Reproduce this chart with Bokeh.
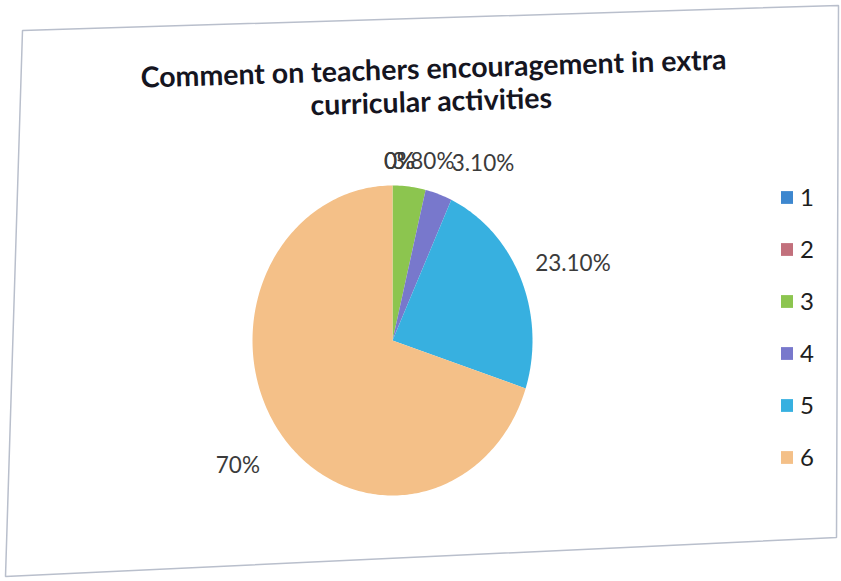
import numpy as np
from bokeh.plotting import figure
from bokeh.models import ColumnDataSource, Range1d, Legend, LegendItem
from bokeh.core.properties import value
from bokeh.embed import file_html
from bokeh.resources import INLINE

# ---- data ----
categories = ["1", "2", "3", "4", "5", "6"]
shares = [0.0, 0.0, 3.8, 3.1, 23.1, 70.0]          # percent
share_labels = ["0%", "0%", "3.80%", "3.10%", "23.10%", "70%"]
title_lines = ["Comment on teachers encouragement in extra",
               "curricular activities"]
colors = ["#3d87cf", "#c2707c", "#8cc54f", "#7878cc", "#37b0e0", "#f4c088"]

# ---- layout / style ----
W, H = 841, 581
CX, CY, RX, RY = 392, 340, 140, 155
FONT = "Lato"

p = figure(width=W, height=H, output_backend="svg", toolbar_location=None,
           x_range=Range1d(0, W), y_range=Range1d(H, 0),
           x_axis_location=None, y_axis_location=None, min_border=0)
p.grid.visible = False
p.outline_line_color = None
p.background_fill_color = "white"
p.border_fill_color = "white"

# card border (decoration, slightly skewed like the photographed sheet)
p.patch(x=[22, 838, 836, 5], y=[30, 5, 537, 576], fill_color=None,
        line_color="#b9bfcc", line_width=1.5)

# ---- pie slices (clockwise from 12 o'clock) ----
frac = np.array(shares) / 100.0
ends = np.cumsum(frac) * 2 * np.pi
starts = ends - frac * 2 * np.pi
xs, ys = [], []
for a0, a1 in zip(starts, ends):
    n = max(2, int(np.ceil((a1 - a0) / (np.pi / 180))) + 1)
    t = np.linspace(a0, a1, n)
    xs.append([CX] + list(CX + RX * np.sin(t)))
    ys.append([CY] + list(CY - RY * np.cos(t)))

src = ColumnDataSource(dict(xs=xs, ys=ys, cat=categories, color=colors))
r = p.patches("xs", "ys", source=src, fill_color="color", line_color=None)

# ---- data labels: placed outward along each slice's mid-angle ----
mid = (starts + ends) / 2
lx = CX + 1.18 * RX * np.sin(mid)
ly = CY - 1.18 * RY * np.cos(mid)
# label nudges (styling, in screen px; +y is down)
nudge_x = [7, 7, 11, 36, 29, -21]
nudge_y = [3, 3, 2, -5, -5, 16]
lsrc = ColumnDataSource(dict(x=lx, y=ly, t=share_labels, dx=nudge_x, dy=nudge_y))
p.text("x", "y", text="t", source=lsrc, x_offset="dx", y_offset="dy",
       text_font=value(FONT), text_font_size="22.5px", text_color="#3b3b3b",
       text_align="center", text_baseline="middle")

# ---- title (slightly tilted like the photographed sheet) ----
p.text(x=[433, 431], y=[67, 100], text=title_lines, angle=0.031,
       text_font=value(FONT), text_font_style="bold", text_font_size="28.5px",
       text_color="#15151f", text_align="center", text_baseline="middle")

# ---- legend ----
items = [LegendItem(label=c, renderers=[r], index=i) for i, c in enumerate(categories)]
legend = Legend(items=items, location=(779, 110), glyph_width=15, glyph_height=16,
                label_height=20, spacing=23, label_standoff=6, padding=0, margin=0,
                border_line_color=None, background_fill_alpha=0,
                label_text_font=FONT, label_text_font_size="24px",
                label_text_color="#1e1e1e")
p.add_layout(legend)

open("out.html", "w").write(file_html(p, INLINE))
